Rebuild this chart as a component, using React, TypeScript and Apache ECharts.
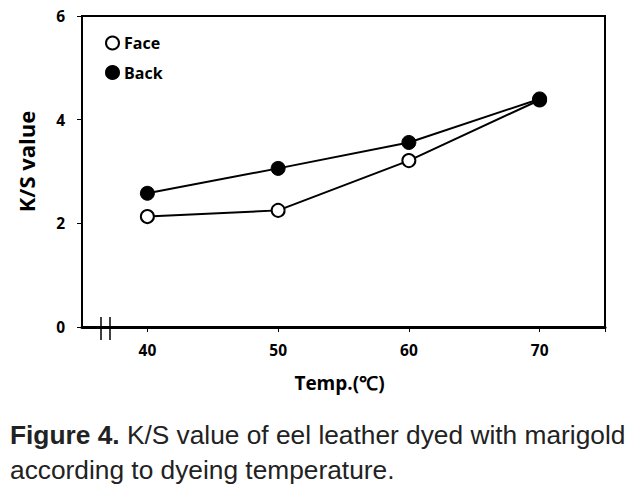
import React, { useEffect, useRef } from "react";
import * as echarts from "echarts";

const temps = [40, 50, 60, 70];
const faceValues = [2.13, 2.25, 3.21, 4.38];
const backValues = [2.58, 3.06, 3.56, 4.4];
const yTicks = [0, 2, 4, 6];
const xLabelValues = [40, 50, 60, 70];
const xTickValues = [40, 50, 60, 70, 75];
const seriesNames = ["Face", "Back"];
const captionBold = "Figure 4.";
const captionLine1 = " K/S value of eel leather dyed with marigold";
const captionLine2 = "according to dyeing temperature.";

const FONT = "Open Sans";

export default function App() {
  const ref = useRef<HTMLDivElement>(null);
  useEffect(() => {
    if (!ref.current) return;
    const chart = echarts.init(ref.current, null, { renderer: "svg" });
    const axisLabelStyle = { color: "#000", fontFamily: FONT, fontWeight: "bold" as const, fontSize: 15.5 };
    chart.setOption({
      animation: false,
      backgroundColor: "#fff",
      grid: {
        left: 82,
        top: 16,
        right: 27,
        bottom: 163,
        show: true,
        borderColor: "#000",
        borderWidth: 2,
        backgroundColor: "transparent",
      },
      legend: {
        orient: "vertical",
        left: 100,
        top: 30,
        itemGap: 13.5,
        itemWidth: 13,
        itemHeight: 13,
        icon: "circle",
        data: seriesNames,
        textStyle: { color: "#000", fontFamily: FONT, fontWeight: "bold", fontSize: 16 },
      },
      xAxis: {
        type: "value",
        min: 35,
        max: 75,
        name: "Temp.(℃)",
        nameLocation: "middle",
        nameGap: 46,
        nameTextStyle: { color: "#000", fontFamily: FONT, fontWeight: "bold", fontSize: 19, padding: [0, 8, 0, 0] },
        axisLine: { show: true, lineStyle: { color: "#000", width: 3 } },
        axisTick: { show: true, inside: false, length: 5, lineStyle: { color: "#000", width: 1 }, customValues: xTickValues },
        axisLabel: { ...axisLabelStyle, margin: 15, customValues: xLabelValues },
        splitLine: { show: false },
      },
      yAxis: {
        type: "value",
        min: yTicks[0],
        max: yTicks[yTicks.length - 1],
        interval: 2,
        name: "K/S value",
        nameLocation: "middle",
        nameGap: 45,
        nameRotate: 90,
        nameTextStyle: { color: "#000", fontFamily: FONT, fontWeight: "bold", fontSize: 22, padding: [0, 0, 0, 20] },
        axisLine: { show: true, lineStyle: { color: "#000", width: 2 } },
        axisTick: { show: true, inside: false, length: 5, lineStyle: { color: "#000", width: 1 } },
        axisLabel: { ...axisLabelStyle, margin: 17 },
        splitLine: { show: false },
      },
      series: [
        {
          name: seriesNames[0],
          type: "line",
          data: temps.map((t, i) => [t, faceValues[i]]),
          symbol: "circle",
          symbolSize: 13,
          lineStyle: { color: "#000", width: 2 },
          itemStyle: { color: "#fff", borderColor: "#000", borderWidth: 2 },
          z: 2,
        },
        {
          name: seriesNames[1],
          type: "line",
          data: temps.map((t, i) => [t, backValues[i]]),
          symbol: "circle",
          symbolSize: 14,
          lineStyle: { color: "#000", width: 2 },
          itemStyle: { color: "#000", borderColor: "#000", borderWidth: 1 },
          z: 3,
        },
      ],
      graphic: [
        { type: "line", shape: { x1: 101, y1: 317, x2: 101, y2: 340 }, style: { stroke: "#000", lineWidth: 1.5 } },
        { type: "line", shape: { x1: 110, y1: 317, x2: 110, y2: 340 }, style: { stroke: "#000", lineWidth: 1.5 } },
        {
          type: "text",
          left: 10,
          top: 422,
          style: {
            text: "{b|" + captionBold + "}{r|" + captionLine1 + "}",
            rich: {
              b: { fontFamily: "Liberation Sans", fontWeight: "bold", fontSize: 26.3, fill: "#222" },
              r: { fontFamily: "Liberation Sans", fontSize: 26.3, fill: "#222" },
            },
          },
        },
        {
          type: "text",
          left: 10,
          top: 457,
          style: { text: captionLine2, fontFamily: "Liberation Sans", fontSize: 26.3, fill: "#222" },
        },
      ],
    });
    return () => chart.dispose();
  }, []);
  return <div ref={ref} style={{ width: 632, height: 490, position: "absolute", left: 0, top: 0 }} />;
}
